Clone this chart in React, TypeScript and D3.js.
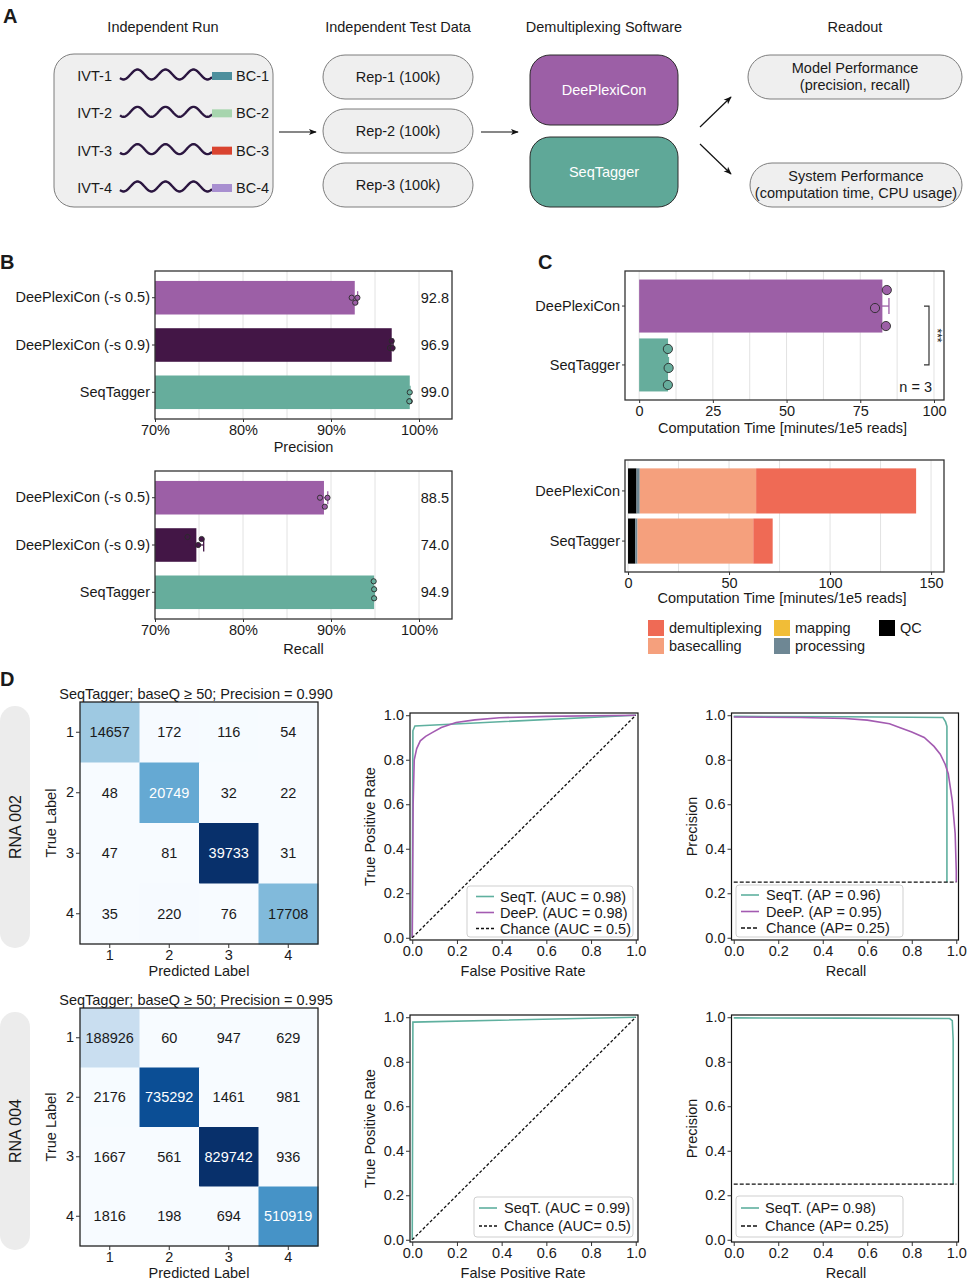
import React, { useEffect, useRef } from 'react';
import * as d3 from 'd3';

const FONT = '"Liberation Sans", Arial, Helvetica, sans-serif';
const INK = '#1a1a1a';
const FS = 14.5;

// ---- Panel A: workflow ----
const stepTitles = ['Independent Run', 'Independent Test Data', 'Demultiplexing Software', 'Readout'];
const runLabels = ['IVT-1', 'IVT-2', 'IVT-3', 'IVT-4'];
const barcodeLabels = ['BC-1', 'BC-2', 'BC-3', 'BC-4'];
const barcodeColors = ['#4d8f9d', '#a7d5ae', '#d9432f', '#a88fd0'];
const replicateSets = ['Rep-1 (100k)', 'Rep-2 (100k)', 'Rep-3 (100k)'];
const softwareNames = ['DeePlexiCon', 'SeqTagger'];
const softwareColors = ['#9c5fa6', '#5fa898'];
const readoutLines = [
  ['Model Performance', '(precision, recall)'],
  ['System Performance', '(computation time, CPU usage)'],
];

// ---- Panel B: precision / recall ----
const methods = ['DeePlexiCon (-s 0.5)', 'DeePlexiCon (-s 0.9)', 'SeqTagger'];
const methodColors = ['#9c5fa6', '#431646', '#66ad9c'];
const pctTicks = [70, 80, 90, 100];
const precisionMean = [92.7, 96.9, 98.95];
const precisionLabel = ['92.8', '96.9', '99.0'];
const precisionReps = [[92.35, 93.0, 92.75], [96.9, 96.7, 97.0], [98.95, 98.95, 98.9]];
const recallMean = [89.2, 74.7, 94.9];
const recallLabel = ['88.5', '74.0', '94.9'];
const recallReps = [[88.75, 89.6, 89.3], [73.7, 75.3, 74.9], [94.85, 94.9, 94.9]];

// ---- Panel C: computation time ----
const tools = ['DeePlexiCon', 'SeqTagger'];
const toolColors = ['#9c5fa6', '#66ad9c'];
const timeTicks = [0, 25, 50, 75, 100];
const timeMean = [82.5, 9.8];
const timeReps = [[84.0, 80.0, 83.7], [9.75, 10.0, 9.75]];
const stageTicks = [0, 50, 100, 150];
const stageOrder = ['QC', 'processing', 'mapping', 'basecalling', 'demultiplexing'];
const stageColors = ['#000000', '#6e8794', '#f1bd37', '#f5a07d', '#ef6a55'];
const legendOrder = ['demultiplexing', 'basecalling', 'mapping', 'processing', 'QC'];
const qcTime = [4.2, 3.6];
const processingTime = [1.6, 1.1];
const mappingTime = [0, 0];
const basecallingTime = [57.6, 57.3];
const demuxTime = [79.2, 9.6];

// ---- Panel D: confusion matrices, ROC, PR ----
const cmLabels = ['1', '2', '3', '4'];
const cm002 = [
  [14657, 172, 116, 54],
  [48, 20749, 32, 22],
  [47, 81, 39733, 31],
  [35, 220, 76, 17708],
];
const cm004 = [
  [188926, 60, 947, 629],
  [2176, 735292, 1461, 981],
  [1667, 561, 829742, 936],
  [1816, 198, 694, 510919],
];
const unitTicks = [0, 0.2, 0.4, 0.6, 0.8, 1.0];
const roc002SeqT: [number, number][] = [[0, 0], [0.003, 0.93], [0.012, 0.952], [1, 1]];
const roc002DeeP: [number, number][] = [
  [0, 0], [0.002, 0.3], [0.004, 0.6], [0.009, 0.8], [0.02, 0.85], [0.036, 0.885], [0.06, 0.905],
  [0.089, 0.922], [0.13, 0.945], [0.196, 0.967], [0.28, 0.979], [0.39, 0.989], [0.6, 0.995], [1, 1],
];
const pr002SeqT: [number, number][] = [[0, 0.995], [0.5, 0.993], [0.94, 0.99], [0.952, 0.97], [0.958, 0.95], [0.958, 0.25]];
const pr002DeeP: [number, number][] = [
  [0, 0.992], [0.3, 0.99], [0.5, 0.985], [0.6, 0.978], [0.7, 0.962], [0.748, 0.944], [0.8, 0.925],
  [0.856, 0.9], [0.9, 0.86], [0.928, 0.825], [0.95, 0.78], [0.964, 0.737], [0.982, 0.616],
  [0.995, 0.468], [1.0, 0.3], [1.0, 0.25],
];
const roc004SeqT: [number, number][] = [[0, 0], [0.003, 0.978], [1, 1]];
const pr004SeqT: [number, number][] = [[0, 0.997], [0.5, 0.996], [0.97, 0.994], [0.982, 0.985], [0.986, 0.9], [0.986, 0.25]];
const chanceRoc: [number, number][] = [[0, 0], [1, 1]];
const chancePr: [number, number][] = [[0, 0.25], [1, 0.25]];
const SEQT = '#5fb09f';
const DEEP = '#a35bb1';

type Sel = d3.Selection<any, unknown, null, undefined>;

function text(g: Sel, x: number, y: number, s: string, o: any = {}) {
  const t = g.append('text')
    .attr('x', x).attr('y', y)
    .attr('text-anchor', o.anchor ?? 'middle')
    .attr('dominant-baseline', 'central')
    .attr('font-family', FONT)
    .attr('font-size', o.size ?? FS)
    .attr('font-weight', o.weight ?? 'normal')
    .attr('fill', o.fill ?? INK)
    .text(s);
  if (o.rotate) t.attr('transform', `rotate(${o.rotate},${x},${y})`);
  return t;
}

function styleAxis(ax: Sel) {
  ax.select('.domain').remove();
  ax.selectAll('text').attr('font-size', FS).attr('font-family', FONT).attr('fill', INK);
  ax.selectAll('line').attr('stroke', '#333');
}

function arrow(g: Sel, x1: number, y1: number, x2: number, y2: number) {
  g.append('line').attr('x1', x1).attr('y1', y1).attr('x2', x2).attr('y2', y2)
    .attr('stroke', '#111').attr('stroke-width', 1.2).attr('marker-end', 'url(#arrowHead)');
}

function drawA(svg: Sel) {
  const g = svg.append('g');
  text(g, 3, 16, 'A', { anchor: 'start', size: 20, weight: 'bold' });
  const titleX = [163, 398, 604, 855];
  stepTitles.forEach((t, i) => text(g, titleX[i], 27, t));

  g.append('rect').attr('x', 54).attr('y', 54).attr('width', 219).attr('height', 153).attr('rx', 20)
    .attr('fill', '#efefef').attr('stroke', '#7d7d7d');
  const rowY = d3.scalePoint<string>().domain(runLabels).range([76, 188]);
  const wave = d3.line();
  runLabels.forEach((r, i) => {
    const cy = rowY(r)!;
    text(g, 112, cy, r, { anchor: 'end' });
    const pts = d3.range(120, 213).map((x) => [x, cy - 1.5 + 5 * Math.cos((2 * Math.PI * (x - 123.5)) / 28)] as [number, number]);
    g.append('path').attr('d', wave(pts)).attr('fill', 'none').attr('stroke', '#2b1640').attr('stroke-width', 2.4);
    g.append('rect').attr('x', 212).attr('y', cy - 4).attr('width', 20).attr('height', 8).attr('fill', barcodeColors[i]);
    text(g, 236, cy, barcodeLabels[i], { anchor: 'start' });
  });

  const repY = d3.scalePoint<string>().domain(replicateSets).range([77, 185]);
  replicateSets.forEach((r) => {
    const cy = repY(r)!;
    g.append('rect').attr('x', 323).attr('y', cy - 22).attr('width', 150).attr('height', 44).attr('rx', 22)
      .attr('fill', '#efefef').attr('stroke', '#7d7d7d');
    text(g, 398, cy, r);
  });

  const swY = d3.scalePoint<string>().domain(softwareNames).range([90, 172]);
  softwareNames.forEach((s, i) => {
    const cy = swY(s)!;
    g.append('rect').attr('x', 530).attr('y', cy - 35).attr('width', 148).attr('height', 70).attr('rx', 20)
      .attr('fill', softwareColors[i]).attr('stroke', '#2d2d2d');
    text(g, 604, cy, s, { fill: '#fff' });
  });

  const boxes = [{ x: 748, y: 55, w: 214 }, { x: 750, y: 163, w: 212 }];
  readoutLines.forEach((lines, i) => {
    const b = boxes[i];
    g.append('rect').attr('x', b.x).attr('y', b.y).attr('width', b.w).attr('height', 44).attr('rx', 22)
      .attr('fill', '#efefef').attr('stroke', '#7d7d7d');
    lines.forEach((l, k) => text(g, b.x + b.w / 2, b.y + 13 + k * 17, l));
  });

  arrow(g, 279, 132, 316, 132);
  arrow(g, 481, 132, 518, 132);
  arrow(g, 700, 127, 731, 97);
  arrow(g, 700, 144, 731, 174);
}

function hbarPanel(svg: Sel, o: any) {
  const g = svg.append('g');
  const x = d3.scaleLinear().domain(o.domain).range([o.left, o.right]);
  const y = d3.scaleBand<string>().domain(o.cats).range([o.top, o.bottom]).paddingInner(o.pIn).paddingOuter(o.pOut);
  const base = Math.max(0, o.domain[0]);
  g.selectAll('line.grid').data(o.grid).join('line').attr('class', 'grid')
    .attr('x1', (d: number) => x(d)).attr('x2', (d: number) => x(d))
    .attr('y1', o.top).attr('y2', o.bottom).attr('stroke', '#e2e2e2').attr('stroke-width', 1);
  g.selectAll('rect.bar').data(o.cats).join('rect').attr('class', 'bar')
    .attr('x', x(base))
    .attr('y', (d: string) => y(d)!)
    .attr('width', (_: string, i: number) => x(o.means[i]) - x(base))
    .attr('height', y.bandwidth())
    .attr('fill', (_: string, i: number) => o.colors[i]);
  o.cats.forEach((c: string, i: number) => {
    const cy = y(c)! + y.bandwidth() / 2;
    const sd = d3.deviation(o.reps[i]) ?? 0;
    const hi = x(o.means[i] + sd);
    g.append('line').attr('x1', x(o.means[i] - sd)).attr('x2', hi).attr('y1', cy).attr('y2', cy)
      .attr('stroke', o.colors[i]).attr('stroke-width', 1.3);
    g.append('line').attr('x1', hi).attr('x2', hi).attr('y1', cy - o.cap / 2).attr('y2', cy + o.cap / 2)
      .attr('stroke', o.colors[i]).attr('stroke-width', 1.3);
    o.reps[i].forEach((v: number, k: number) => {
      g.append('circle').attr('cx', x(v)).attr('cy', cy + o.jitter[i][k]).attr('r', o.r)
        .attr('fill', o.colors[i]).attr('stroke', '#2a2a2a').attr('stroke-width', 0.9);
    });
    if (o.valueLabels) text(g, o.labelX, cy, o.valueLabels[i], { anchor: 'end' });
  });
  g.append('rect').attr('x', o.left).attr('y', o.top).attr('width', o.right - o.left).attr('height', o.bottom - o.top)
    .attr('fill', 'none').attr('stroke', '#333').attr('stroke-width', 1.3);
  const ax = g.append('g').attr('transform', `translate(0,${o.bottom})`)
    .call(d3.axisBottom(x).tickValues(o.ticks).tickFormat(o.fmt).tickSize(3).tickPadding(3));
  styleAxis(ax);
  const ay = g.append('g').attr('transform', `translate(${o.left},0)`)
    .call(d3.axisLeft(y).tickSize(3).tickPadding(2));
  styleAxis(ay);
  text(g, (o.left + o.right) / 2 + (o.titleShift ?? 0), o.titleY, o.title);
  return { g, x, y };
}

function drawB(svg: Sel) {
  text(svg, 0, 262, 'B', { anchor: 'start', size: 20, weight: 'bold' });
  const common = {
    left: 155, right: 452, domain: [70, 103.75], ticks: pctTicks, fmt: (d: number) => `${d}%`,
    grid: d3.range(75, 101, 5), cats: methods, colors: methodColors, pIn: 0.29, pOut: 0.21,
    r: 2.6, cap: 13, labelX: 449,
  };
  hbarPanel(svg, {
    ...common, top: 271, bottom: 419, means: precisionMean, reps: precisionReps,
    jitter: [[0, 0, 5], [-4, 3, 3], [0, 9, 9]], valueLabels: precisionLabel, title: 'Precision', titleY: 447,
  });
  hbarPanel(svg, {
    ...common, top: 471, bottom: 619, means: recallMean, reps: recallReps,
    jitter: [[0, 0, 9], [-8, -6, 0], [-11, -3, 6]], valueLabels: recallLabel, title: 'Recall', titleY: 649,
  });
}

function drawC(svg: Sel) {
  text(svg, 538, 262, 'C', { anchor: 'start', size: 20, weight: 'bold' });
  const top = hbarPanel(svg, {
    left: 625, right: 944, top: 271, bottom: 400, domain: [-4.8, 103.4], ticks: timeTicks, fmt: (d: number) => `${d}`,
    grid: d3.range(0, 101, 12.5), cats: tools, colors: toolColors, pIn: 0.1, pOut: 0.145,
    r: 4.6, cap: 16, means: timeMean, reps: timeReps, jitter: [[-16, 2, 20], [-16, 3, 20]],
    title: 'Computation Time [minutes/1e5 reads]', titleY: 428, titleShift: -2,
  });
  const g = top.g;
  // significance bracket
  const bx = 929;
  const y0 = top.y(tools[0])! + top.y.bandwidth() / 2;
  const y1 = top.y(tools[1])! + top.y.bandwidth() / 2;
  g.append('path').attr('d', `M${bx - 5},${y0} H${bx} V${y1} H${bx - 5}`).attr('fill', 'none').attr('stroke', '#333').attr('stroke-width', 1.2);
  text(g, bx + 8, (y0 + y1) / 2, '***', { size: 12, rotate: 90 });
  text(g, 932, 387, 'n = 3', { anchor: 'end' });

  // stacked bars
  const left = 625, right = 944, t = 460, b = 572;
  const gb = svg.append('g');
  const x = d3.scaleLinear().domain([-1.5, 156.4]).range([left, right]);
  const y = d3.scaleBand<string>().domain(tools).range([t, b]).paddingInner(0.1).paddingOuter(0.167);
  gb.selectAll('line.grid').data(d3.range(0, 151, 25)).join('line')
    .attr('x1', (d) => x(d)).attr('x2', (d) => x(d)).attr('y1', t).attr('y2', b)
    .attr('stroke', '#e2e2e2').attr('stroke-width', 1);
  const rows = tools.map((tool, i) => ({
    tool, QC: qcTime[i], processing: processingTime[i], mapping: mappingTime[i],
    basecalling: basecallingTime[i], demultiplexing: demuxTime[i],
  }));
  const series = d3.stack<any>().keys(stageOrder)(rows);
  series.forEach((s, si) => {
    gb.append('g').selectAll('rect').data(s).join('rect')
      .attr('x', (d: any) => x(d[0])).attr('width', (d: any) => x(d[1]) - x(d[0]))
      .attr('y', (d: any) => y(d.data.tool)!).attr('height', y.bandwidth())
      .attr('fill', stageColors[si]);
  });
  gb.append('rect').attr('x', left).attr('y', t).attr('width', right - left).attr('height', b - t)
    .attr('fill', 'none').attr('stroke', '#333').attr('stroke-width', 1.3);
  const ax = gb.append('g').attr('transform', `translate(0,${b})`)
    .call(d3.axisBottom(x).tickValues(stageTicks).tickFormat((d) => `${d}`).tickSize(3).tickPadding(3));
  styleAxis(ax);
  const ay = gb.append('g').attr('transform', `translate(${left},0)`).call(d3.axisLeft(y).tickSize(3).tickPadding(2));
  styleAxis(ay);
  text(gb, 782, 598, 'Computation Time [minutes/1e5 reads]');

  const slots = [[648, 620], [648, 638], [774, 620], [774, 638], [879, 620]];
  legendOrder.forEach((name, i) => {
    const [lx, ly] = slots[i];
    gb.append('rect').attr('x', lx).attr('y', ly).attr('width', 16).attr('height', 16)
      .attr('fill', stageColors[stageOrder.indexOf(name)]);
    text(gb, lx + 21, ly + 8, name, { anchor: 'start' });
  });
}

function confusion(svg: Sel, o: any) {
  const g = svg.append('g');
  // side pill behind everything
  g.append('rect').attr('x', 0).attr('y', o.top + 4).attr('width', 30).attr('height', o.bottom - o.top).attr('rx', 15)
    .attr('fill', '#ececec');
  text(g, 15, (o.top + o.bottom) / 2 + 4, o.side, { size: 16, rotate: -90 });

  const x = d3.scaleBand<string>().domain(cmLabels).range([o.left, o.right]);
  const y = d3.scaleBand<string>().domain(cmLabels).range([o.top, o.bottom]);
  const max = d3.max(o.matrix.flat() as number[])!;
  const color = d3.scaleSequential(d3.interpolateBlues).domain([0, max]);
  o.matrix.forEach((row: number[], r: number) => {
    row.forEach((v, c) => {
      g.append('rect').attr('x', x(cmLabels[c])!).attr('y', y(cmLabels[r])!)
        .attr('width', x.bandwidth() + 0.5).attr('height', y.bandwidth() + 0.5).attr('fill', color(v));
      text(g, x(cmLabels[c])! + x.bandwidth() / 2, y(cmLabels[r])! + y.bandwidth() / 2, String(v),
        { fill: v / max > 0.5 ? '#fff' : INK });
    });
  });
  g.append('rect').attr('x', o.left).attr('y', o.top).attr('width', o.right - o.left).attr('height', o.bottom - o.top)
    .attr('fill', 'none').attr('stroke', '#222').attr('stroke-width', 1.3);
  const ax = g.append('g').attr('transform', `translate(0,${o.bottom})`).call(d3.axisBottom(x).tickSize(4).tickPadding(2));
  styleAxis(ax);
  const ay = g.append('g').attr('transform', `translate(${o.left},0)`).call(d3.axisLeft(y).tickSize(4).tickPadding(2));
  styleAxis(ay);
  text(g, 196, o.top - 8, o.title);
  text(g, 199, o.bottom + 27, 'Predicted Label');
  text(g, 51, (o.top + o.bottom) / 2, 'True Label', { rotate: -90 });
}

function curvePlot(svg: Sel, o: any) {
  const g = svg.append('g');
  const x = d3.scaleLinear().domain([-0.01, 1.01]).range([o.left, o.right]);
  const y = d3.scaleLinear().domain([-0.01, 1.01]).range([o.bottom, o.top]);
  const line = d3.line<[number, number]>().x((d) => x(d[0])).y((d) => y(d[1]));
  o.series.forEach((s: any) => {
    g.append('path').attr('d', line(s.pts)).attr('fill', 'none').attr('stroke', s.color)
      .attr('stroke-width', s.dash ? 1.3 : 1.6).attr('stroke-dasharray', s.dash ?? null);
  });
  g.append('rect').attr('x', o.left).attr('y', o.top).attr('width', o.right - o.left).attr('height', o.bottom - o.top)
    .attr('fill', 'none').attr('stroke', '#111').attr('stroke-width', 1.2);
  const ax = g.append('g').attr('transform', `translate(0,${o.bottom})`)
    .call(d3.axisBottom(x).tickValues(unitTicks).tickFormat(d3.format('.1f')).tickSize(4).tickPadding(2));
  styleAxis(ax);
  const ay = g.append('g').attr('transform', `translate(${o.left},0)`)
    .call(d3.axisLeft(y).tickValues(unitTicks).tickFormat(d3.format('.1f')).tickSize(4).tickPadding(2));
  styleAxis(ay);
  text(g, (o.left + o.right) / 2 + o.xShift, o.bottom + 31, o.xlabel);
  text(g, o.ylabX, (o.top + o.bottom) / 2, o.ylabel, { rotate: -90 });
  const L = o.legend;
  g.append('rect').attr('x', L.x).attr('y', L.y).attr('width', L.w).attr('height', L.h).attr('rx', 3)
    .attr('fill', 'rgba(255,255,255,0.85)').attr('stroke', '#cfcfcf');
  o.series.forEach((s: any, i: number) => {
    const ly = L.y + L.first + i * L.step;
    g.append('line').attr('x1', L.x + L.lx).attr('x2', L.x + L.lx + 18).attr('y1', ly).attr('y2', ly)
      .attr('stroke', s.color).attr('stroke-width', s.dash ? 1.3 : 1.6).attr('stroke-dasharray', s.dash ?? null);
    text(g, L.x + L.tx, ly, s.label, { anchor: 'start' });
  });
}

function drawD(svg: Sel) {
  text(svg, 0, 679, 'D', { anchor: 'start', size: 20, weight: 'bold' });
  confusion(svg, { left: 80, right: 318, top: 702, bottom: 944, matrix: cm002, side: 'RNA 002',
    title: 'SeqTagger; baseQ \u2265 50; Precision = 0.990' });
  confusion(svg, { left: 80, right: 318, top: 1008, bottom: 1246, matrix: cm004, side: 'RNA 004',
    title: 'SeqTagger; baseQ \u2265 50; Precision = 0.995' });

  const rows = [{ top: 713, bottom: 940 }, { top: 1015, bottom: 1242 }];
  curvePlot(svg, {
    ...rows[0], left: 410, right: 638, xlabel: 'False Positive Rate', ylabel: 'True Positive Rate', ylabX: 370, xShift: -1,
    series: [
      { pts: roc002SeqT, color: SEQT, label: 'SeqT. (AUC = 0.98)' },
      { pts: roc002DeeP, color: DEEP, label: 'DeeP. (AUC = 0.98)' },
      { pts: chanceRoc, color: '#111', dash: '3,2', label: 'Chance (AUC = 0.5)' },
    ],
    legend: { x: 467, y: 886, w: 166, h: 51, first: 10.5, step: 16, lx: 9, tx: 33 },
  });
  curvePlot(svg, {
    ...rows[0], left: 731.5, right: 958.5, xlabel: 'Recall', ylabel: 'Precision', ylabX: 692, xShift: 1,
    series: [
      { pts: pr002SeqT, color: SEQT, label: 'SeqT. (AP = 0.96)' },
      { pts: pr002DeeP, color: DEEP, label: 'DeeP. (AP = 0.95)' },
      { pts: chancePr, color: '#111', dash: '4,2', label: 'Chance (AP= 0.25)' },
    ],
    legend: { x: 736, y: 885, w: 167, h: 52, first: 10, step: 16.5, lx: 5, tx: 30 },
  });
  curvePlot(svg, {
    ...rows[1], left: 410, right: 638, xlabel: 'False Positive Rate', ylabel: 'True Positive Rate', ylabX: 370, xShift: -1,
    series: [
      { pts: roc004SeqT, color: SEQT, label: 'SeqT. (AUC = 0.99)' },
      { pts: chanceRoc, color: '#111', dash: '3,2', label: 'Chance (AUC= 0.5)' },
    ],
    legend: { x: 474, y: 1197, w: 159, h: 40, first: 11, step: 18, lx: 5, tx: 30 },
  });
  curvePlot(svg, {
    ...rows[1], left: 731.5, right: 958.5, xlabel: 'Recall', ylabel: 'Precision', ylabX: 692, xShift: 1,
    series: [
      { pts: pr004SeqT, color: SEQT, label: 'SeqT. (AP= 0.98)' },
      { pts: chancePr, color: '#111', dash: '4,2', label: 'Chance (AP= 0.25)' },
    ],
    legend: { x: 736, y: 1196, w: 167, h: 41, first: 12, step: 18, lx: 5, tx: 29 },
  });
}

const App: React.FC = () => {
  const ref = useRef<SVGSVGElement>(null);

  useEffect(() => {
    const svg = d3.select(ref.current) as Sel;
    svg.selectAll('*').remove();
    svg.append('defs').append('marker').attr('id', 'arrowHead')
      .attr('viewBox', '0 0 10 10').attr('refX', 9).attr('refY', 5)
      .attr('markerWidth', 8).attr('markerHeight', 8).attr('markerUnits', 'userSpaceOnUse').attr('orient', 'auto')
      .append('path').attr('d', 'M0,1 L10,5 L0,9 L2.5,5 Z').attr('fill', '#111');
    drawA(svg);
    drawB(svg);
    drawC(svg);
    drawD(svg);
  }, []);

  return (
    <svg ref={ref} width={967} height={1280}
      style={{ position: 'absolute', left: 0, top: 0, background: '#fff' }} />
  );
};

export default App;
